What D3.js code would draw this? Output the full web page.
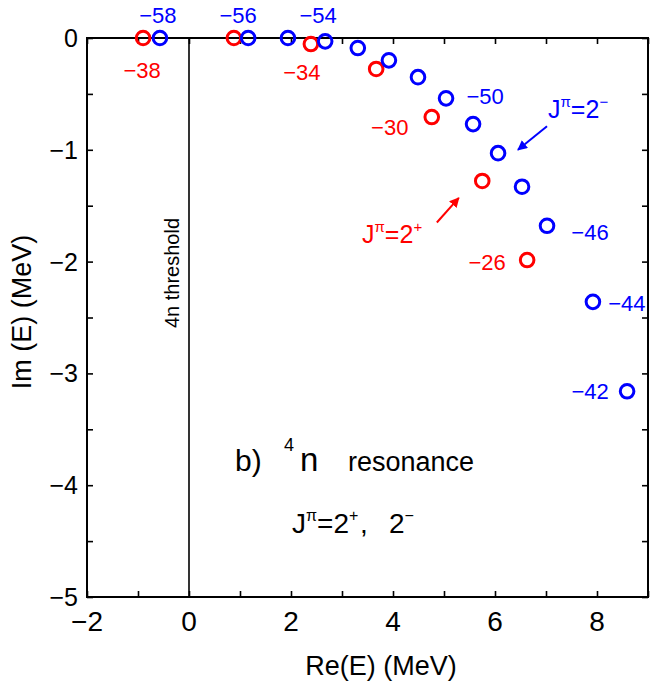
<!DOCTYPE html>
<html>
<head>
<meta charset="utf-8">
<script src="https://cdn.jsdelivr.net/npm/d3@7"></script>
<style>
  html, body { margin: 0; padding: 0; background: #fff; }
  svg { display: block; font-family: "Liberation Sans", Arial, Helvetica, sans-serif; }
</style>
</head>
<body>
<svg id="chart" width="654" height="692"></svg>
<script>
// ---- data ----
const blueRe = [-0.57, 1.16, 1.94, 2.67, 3.31, 3.92, 4.49, 5.04, 5.57, 6.06, 6.53, 7.02, 7.92, 8.59];
const blueIm = [0, 0, 0, -0.03, -0.09, -0.20, -0.35, -0.54, -0.77, -1.03, -1.33, -1.68, -2.36, -3.16];
const redRe = [-0.90, 0.88, 2.39, 3.67, 4.76, 5.75, 6.63];
const redIm = [0, 0, -0.054, -0.277, -0.707, -1.279, -1.986];
const blueLabelIdx = [0, 1, 3, 7, 11, 12, 13];
const blueLabelText = ["\u221258", "\u221256", "\u221254", "\u221250", "\u221246", "\u221244", "\u221242"];
const redLabelIdx = [0, 2, 4, 6];
const redLabelText = ["\u221238", "\u221234", "\u221230", "\u221226"];
const xTickValues = [-2, 0, 2, 4, 6, 8];
const yTickValues = [0, -1, -2, -3, -4, -5];

// ---- layout (label offsets in px, not data) ----
const blueLabelOffset = [[-2, -23], [-10, -23], [-7, -26], [39, -2], [43, 6], [34, 1], [-37, 0]];
const redLabelOffset = [[-1, 32], [-9, 28], [-42, 10], [-40, 2]];

const svg = d3.select("#chart");
const L = 87, R = 648, T = 38, B = 597;
const x = d3.scaleLinear().domain([-2, 9]).range([L, R]);
const y = d3.scaleLinear().domain([-5, 0]).range([B, T]);

const BLUE = "#0000ff", RED = "#ff0000";

// axes with inward ticks on all four sides
const tickLen = 6;
const gx = svg.append("g").attr("transform", `translate(0,${B})`)
  .call(d3.axisBottom(x).tickValues(d3.range(-2, 10, 1)).tickSize(-tickLen).tickFormat(""));
const gxt = svg.append("g").attr("transform", `translate(0,${T})`)
  .call(d3.axisTop(x).tickValues(d3.range(-2, 10, 1)).tickSize(-tickLen).tickFormat(""));
const gy = svg.append("g").attr("transform", `translate(${L},0)`)
  .call(d3.axisLeft(y).tickValues(d3.range(-5, 0.01, 0.5)).tickSize(-tickLen).tickFormat(""));
const gyr = svg.append("g").attr("transform", `translate(${R},0)`)
  .call(d3.axisRight(y).tickValues(d3.range(-5, 0.01, 0.5)).tickSize(-tickLen).tickFormat(""));
[gx, gxt, gy, gyr].forEach(g => {
  g.select(".domain").remove();
  g.selectAll(".tick line").attr("stroke", "#000").attr("stroke-width", 1.6);
});

// frame
svg.append("rect").attr("x", L).attr("y", T).attr("width", R - L).attr("height", B - T)
  .attr("fill", "none").attr("stroke", "#000").attr("stroke-width", 2);

// tick labels
svg.append("g").selectAll("text").data(xTickValues).join("text")
  .attr("x", d => x(d)).attr("y", 631)
  .attr("text-anchor", "middle").attr("font-size", 28)
  .text(d => d < 0 ? "\u2212" + Math.abs(d) : d);
svg.append("g").selectAll("text").data(yTickValues).join("text")
  .attr("x", 78).attr("y", d => y(d) + 9)
  .attr("text-anchor", "end").attr("font-size", 25)
  .text(d => d < 0 ? "\u2212" + Math.abs(d) : d);

// axis titles
svg.append("text").attr("x", 381).attr("y", 675).attr("text-anchor", "middle")
  .attr("font-size", 27).text("Re(E) (MeV)");
svg.append("text").attr("transform", "translate(31,312) rotate(-90)").attr("text-anchor", "middle")
  .attr("font-size", 27).text("Im (E) (MeV)");

// threshold line
svg.append("line").attr("x1", x(0)).attr("x2", x(0)).attr("y1", T).attr("y2", B)
  .attr("stroke", "#000").attr("stroke-width", 1.6);
svg.append("text").attr("transform", `translate(${x(0) - 10},273) rotate(-90)`)
  .attr("text-anchor", "middle").attr("font-size", 20).text("4n threshold");

// points
function drawSeries(re, im, color) {
  svg.append("g").selectAll("circle").data(re.map((r, i) => [r, im[i]])).join("circle")
    .attr("cx", d => x(d[0])).attr("cy", d => y(d[1])).attr("r", 6.8)
    .attr("fill", "none").attr("stroke", color).attr("stroke-width", 3);
}
drawSeries(redRe, redIm, RED);
drawSeries(blueRe, blueIm, BLUE);

function drawLabels(re, im, idx, txt, off, color) {
  svg.append("g").selectAll("text").data(idx).join("text")
    .attr("x", (d, k) => x(re[d]) + off[k][0])
    .attr("y", (d, k) => y(im[d]) + off[k][1] + 8)
    .attr("text-anchor", "middle").attr("font-size", 22).attr("fill", color)
    .text((d, k) => txt[k]);
}
drawLabels(blueRe, blueIm, blueLabelIdx, blueLabelText, blueLabelOffset, BLUE);
drawLabels(redRe, redIm, redLabelIdx, redLabelText, redLabelOffset, RED);

// arrows
const defs = svg.append("defs");
[["bh", BLUE], ["rh", RED]].forEach(([id, c]) => {
  defs.append("marker").attr("id", id).attr("viewBox", "0 0 10 10").attr("refX", 9).attr("refY", 5)
    .attr("markerWidth", 5).attr("markerHeight", 5).attr("orient", "auto").attr("markerUnits", "strokeWidth")
    .append("path").attr("d", "M0,0 L10,5 L0,10 z").attr("fill", c);
});
const blueArrow = [[7.02, -0.79], [6.45, -1.0]];
const redArrow = [[4.86, -1.65], [5.29, -1.43]];
svg.append("line").attr("x1", x(blueArrow[0][0])).attr("y1", y(blueArrow[0][1]))
  .attr("x2", x(blueArrow[1][0])).attr("y2", y(blueArrow[1][1]))
  .attr("stroke", BLUE).attr("stroke-width", 2).attr("marker-end", "url(#bh)");
svg.append("line").attr("x1", x(redArrow[0][0])).attr("y1", y(redArrow[0][1]))
  .attr("x2", x(redArrow[1][0])).attr("y2", y(redArrow[1][1]))
  .attr("stroke", RED).attr("stroke-width", 2).attr("marker-end", "url(#rh)");

// J^pi labels
function jpi(xp, yp, sign, color) {
  const t = svg.append("text").attr("x", xp).attr("y", yp).attr("font-size", 25).attr("fill", color);
  t.append("tspan").text("J");
  t.append("tspan").attr("dy", -11).attr("font-size", 15).text("\u03c0");
  t.append("tspan").attr("dy", 11).text("=2");
  t.append("tspan").attr("dy", -11).attr("font-size", 15).text(sign);
}
jpi(548, 118, "\u2212", BLUE);
jpi(362, 243, "+", RED);

// annotation
const a = svg.append("text").attr("x", 235).attr("y", 471).attr("font-size", 30);
a.append("tspan").text("b)");
a.append("tspan").attr("x", 284).attr("dy", -20).attr("font-size", 18).text("4");
a.append("tspan").attr("x", 300).attr("dy", 20).attr("font-size", 33).text("n");
a.append("tspan").attr("x", 348).attr("font-size", 27).text("resonance");

const b = svg.append("text").attr("x", 292).attr("y", 533).attr("font-size", 28);
b.append("tspan").text("J");
b.append("tspan").attr("dy", -12).attr("font-size", 16).text("\u03c0");
b.append("tspan").attr("dy", 12).text("=2");
b.append("tspan").attr("dy", -12).attr("font-size", 16).text("+");
b.append("tspan").attr("dy", 12).attr("x", 360).text(",");
b.append("tspan").attr("x", 389).text("2");
b.append("tspan").attr("dy", -12).attr("font-size", 16).text("\u2212");
</script>
</body>
</html>
